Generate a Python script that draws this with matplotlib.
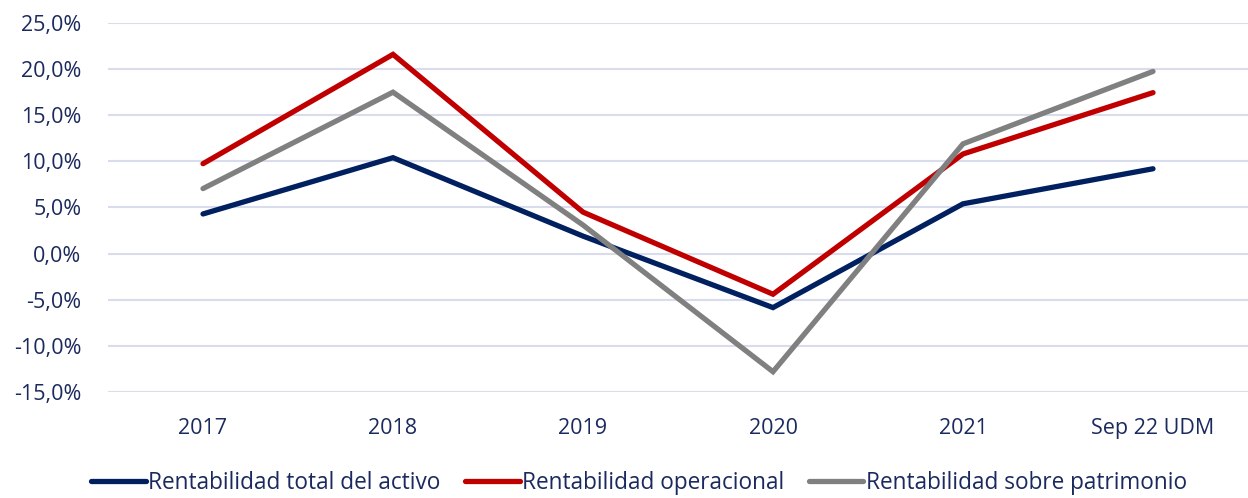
import matplotlib
matplotlib.use("Agg")
import matplotlib.pyplot as plt
from matplotlib.ticker import FuncFormatter

# ---------------------------
# Data (in %)
# ---------------------------
categories = ["2017", "2018", "2019", "2020", "2021", "Sep 22 UDM"]
activo = [4.3, 10.4, 1.9, -5.85, 5.4, 9.2]
operacional = [9.75, 21.6, 4.5, -4.4, 10.8, 17.45]
patrimonio = [7.05, 17.5, 3.1, -12.8, 11.9, 19.75]

series_names = ["Rentabilidad total del activo",
                "Rentabilidad operacional",
                "Rentabilidad sobre patrimonio"]
colors = ["#002060", "#C00000", "#808080"]
text_color = "#1B2A5E"

plt.rcParams['font.family'] = ['Open Sans', 'DejaVu Sans']

fig = plt.figure(figsize=(12.48, 4.98), dpi=100)
ax = fig.add_axes([108 / 1248, 1 - 392 / 498, 1 - 108 / 1248, (392 - 23) / 498])

x = range(len(categories))
for vals, name, c in zip([activo, operacional, patrimonio], series_names, colors):
    ax.plot(x, vals, color=c, lw=3.8, label=name, solid_capstyle='round',
            solid_joinstyle='miter')

ax.set_xlim(-0.5, len(categories) - 0.5)
ax.set_ylim(-15, 25)
ax.set_yticks(range(-15, 26, 5))
ax.yaxis.set_major_formatter(FuncFormatter(lambda v, p: f"{v:.1f}%".replace(".", ",")))
ax.set_xticks(list(x))
ax.set_xticklabels(categories)

ax.grid(axis='y', color="#D9DCEC", lw=1.5)
ax.set_axisbelow(True)
for s in ax.spines.values():
    s.set_visible(False)
ax.tick_params(axis='both', length=0, labelsize=15.5, labelcolor=text_color)
ax.tick_params(axis='y', pad=19)
ax.tick_params(axis='x', pad=19)

leg = fig.legend(loc='center', bbox_to_anchor=(0.512, 1 - 483 / 498), ncol=3,
                 frameon=False, fontsize=16.3, handlelength=2.4,
                 handletextpad=0.1, columnspacing=1.1)
for t in leg.get_texts():
    t.set_color(text_color)

fig.savefig("out.png", dpi=100)
